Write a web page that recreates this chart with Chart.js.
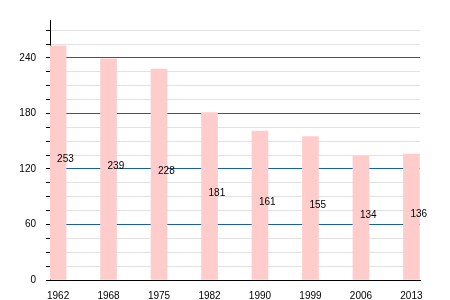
<!DOCTYPE html>
<html>
<head>
<meta charset="utf-8">
<script src="https://cdn.jsdelivr.net/npm/chart.js@4/dist/chart.umd.min.js"></script>
<style>
  html, body { margin: 0; padding: 0; background: #fff; }
  #wrap { width: 450px; height: 300px; }
</style>
</head>
<body>
<div id="wrap"><canvas id="chart"></canvas></div>
<script>
// Données
const annees = ['1962', '1968', '1975', '1982', '1990', '1999', '2006', '2013'];
const population = [253, 239, 228, 181, 161, 155, 134, 136];
const ticksY = [0, 15, 30, 45, 60, 75, 90, 105, 120, 135, 150, 165, 180, 195, 210, 225, 240, 255, 270];
const labelsY = [0, 60, 120, 180, 240];

const couleurBarre = '#ffcccc';
const bleu = '#1560a6';
const gris = '#e2e2e2';

// Valeurs écrites à droite du centre de chaque barre
const etiquettes = {
  id: 'etiquettes',
  afterDatasetsDraw(chart) {
    const ctx = chart.ctx;
    const meta = chart.getDatasetMeta(0);
    ctx.save();
    ctx.font = '10px "Liberation Sans", Arial, sans-serif';
    ctx.fillStyle = '#000';
    ctx.textAlign = 'left';
    ctx.textBaseline = 'middle';
    meta.data.forEach((barre, i) => {
      const milieu = (barre.y + barre.base) / 2 - 3;
      ctx.fillText(String(population[i]), barre.x - 1, milieu);
    });
    ctx.restore();
  }
};

new Chart(document.getElementById('chart'), {
  type: 'bar',
  data: {
    datasets: [{
      data: population.map((v, i) => ({ x: i, y: v })),
      backgroundColor: couleurBarre,
      borderWidth: 0,
      barThickness: 16
    }]
  },
  options: {
    responsive: true,
    maintainAspectRatio: false,
    animation: false,
    layout: { padding: { left: 0, right: 30, top: 20, bottom: 0 } },
    plugins: {
      legend: { display: false },
      tooltip: { enabled: false }
    },
    scales: {
      x: {
        type: 'linear',
        offset: false,
        min: -0.16,
        max: 7.17,
        afterBuildTicks: scale => {
          scale.ticks = annees.map((a, i) => ({ value: i }));
        },
        afterFit: scale => { scale.height = 20; },
        ticks: {
          color: '#000',
          padding: 2,
          font: { family: '"Liberation Sans", Arial, sans-serif', size: 10 },
          maxRotation: 0,
          autoSkip: false,
          callback: value => annees[value]
        },
        grid: { display: false },
        border: { display: true, color: '#000', width: 1 }
      },
      y: {
        min: 0,
        max: 281,
        afterBuildTicks: scale => {
          scale.ticks = ticksY.map(v => ({ value: v }));
        },
        afterFit: scale => { scale.width = 50; },
        ticks: {
          color: '#000',
          padding: 10,
          font: { family: '"Liberation Sans", Arial, sans-serif', size: 10 },
          autoSkip: false,
          callback: value => labelsY.includes(value) ? value : ''
        },
        grid: {
          color: ctx => {
            const v = ctx.tick ? ctx.tick.value : 0;
            if (v === 0) return 'rgba(0,0,0,0)';
            return v % 60 === 0 ? bleu : gris;
          },
          lineWidth: 1,
          tickColor: '#000',
          tickLength: 4
        },
        border: { display: true, color: '#000', width: 1 }
      }
    }
  },
  plugins: [etiquettes]
});
</script>
</body>
</html>
